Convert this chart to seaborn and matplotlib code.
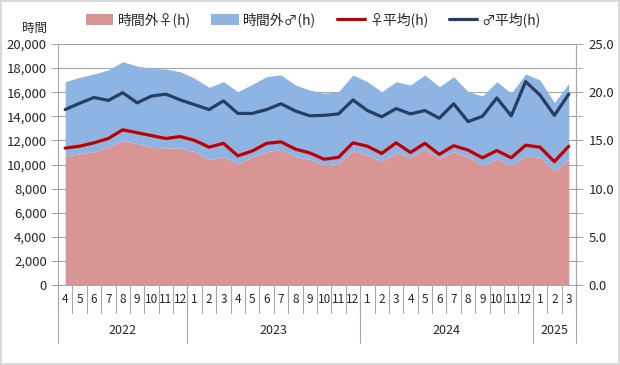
# overtime hours by month, female / male stacked + average per person on 2nd axis
import numpy as np
import pandas as pd
import matplotlib
matplotlib.use("Agg")
import matplotlib.pyplot as plt
import seaborn as sns

# ------------------------------------------------------------------
# data, 2022-04 .. 2025-03
# ------------------------------------------------------------------
months = [4, 5, 6, 7, 8, 9, 10, 11, 12,
          1, 2, 3, 4, 5, 6, 7, 8, 9, 10, 11, 12,
          1, 2, 3, 4, 5, 6, 7, 8, 9, 10, 11, 12,
          1, 2, 3]
years = ["2022", "2023", "2024", "2025"]
year_counts = [9, 12, 12, 3]

# total overtime hours (stacked)
female_hours = [10700, 10900, 11050, 11450, 11980, 11750, 11420, 11380, 11360,
                11060, 10400, 10650, 10040, 10650, 11060, 11260, 10650, 10420, 9960, 10100, 11140,
                10790, 10240, 10980, 10600, 11260, 10550, 11060, 10650, 9880, 10460, 9880, 10700,
                10600, 9460, 10430]
male_hours = [6170, 6330, 6460, 6400, 6550, 6420, 6560, 6540, 6340,
              6090, 6000, 6220, 6000, 6000, 6230, 6170, 5950, 5760, 5950, 5940, 6290,
              6080, 5800, 5890, 6000, 6170, 5900, 6230, 5390, 5810, 6410, 6030, 6810,
              6410, 5670, 6310]

# average overtime per person (right axis)
female_avg = [14.2, 14.4, 14.75, 15.2, 16.1, 15.8, 15.5, 15.2, 15.4,
              15.0, 14.3, 14.7, 13.4, 13.9, 14.7, 14.85, 14.1, 13.7, 13.05, 13.25, 14.75,
              14.4, 13.65, 14.75, 13.75, 14.7, 13.55, 14.45, 14.0, 13.2, 13.95, 13.2, 14.5,
              14.3, 12.8, 14.4]
male_avg = [18.2, 18.85, 19.45, 19.15, 19.95, 18.9, 19.6, 19.8, 19.2,
            18.7, 18.2, 19.1, 17.8, 17.8, 18.2, 18.8, 18.05, 17.55, 17.6, 17.75, 19.2,
            18.1, 17.45, 18.3, 17.75, 18.1, 17.3, 18.8, 16.95, 17.5, 19.4, 17.55, 21.1,
            19.7, 17.6, 19.8]

labels = ["時間外♀(h)", "時間外♂(h)", "♀平均(h)", "♂平均(h)"]

pink = "#d99594"
blue = "#8eb4e3"
red = "#c00000"
navy = "#243f60"
grid_gray = "#a6a6a6"

df = pd.DataFrame({
    "idx": np.arange(len(months)),
    "female": female_hours,
    "male": male_hours,
    "f_avg": female_avg,
    "m_avg": male_avg,
})

sns.set_style("white")
plt.rcParams["font.family"] = ["Noto Sans CJK JP", "DejaVu Sans"]

fig = plt.figure(figsize=(6.2, 3.65), dpi=100, edgecolor="#d9d9d9", linewidth=1.5)
ax = fig.add_axes([0.0935, 0.219, 0.8355, 0.6605])
ax2 = ax.twinx()

# stacked areas
ax.stackplot(df["idx"], df["female"], df["male"], colors=[pink, blue],
             labels=labels[:2], linewidth=0)
ax.set_xlim(-0.5, len(months) - 0.5)
ax.set_ylim(0, 20000)
ax.set_yticks(np.arange(0, 20001, 2000))
ax.set_yticklabels([f"{v:,}" for v in range(0, 20001, 2000)], fontsize=9.5)
ax.yaxis.grid(True, color=grid_gray, linewidth=0.8)
ax.set_axisbelow(True)

# average lines
sns.lineplot(data=df, x="idx", y="f_avg", ax=ax2, color=red, linewidth=2.3, label=labels[2])
sns.lineplot(data=df, x="idx", y="m_avg", ax=ax2, color=navy, linewidth=2.3, label=labels[3])
ax2.set_ylim(0, 25)
ax2.set_yticks(np.arange(0, 25.1, 5))
ax2.set_yticks(np.arange(0, 25.1, 2.5), minor=True)
ax2.set_yticklabels([f"{v:.1f}" for v in np.arange(0, 25.1, 5)], fontsize=9.5)
ax2.set_xlabel("")
ax2.set_ylabel("")
ax2.get_legend().remove()

for a in (ax, ax2):
    for s in a.spines.values():
        s.set_color(grid_gray)
        s.set_linewidth(0.8)
    a.spines["top"].set_visible(False)
ax2.spines["left"].set_visible(False)
ax2.spines["bottom"].set_visible(False)

ax.tick_params(axis="y", direction="out", length=5, color=grid_gray, pad=3)
ax2.tick_params(axis="y", which="both", direction="out", length=5, color=grid_gray, pad=4)
ax2.tick_params(axis="y", which="minor", right=True)

# two-level category axis (month / year)
ax.set_xticks(df["idx"])
ax.set_xticklabels(months, fontsize=8.5)
ax.tick_params(axis="x", length=0, pad=6)
trans = ax.get_xaxis_transform()
for i in range(len(months) + 1):
    ax.plot([i - 0.5, i - 0.5], [0, -0.115], transform=trans, color=grid_gray,
            linewidth=0.8, clip_on=False)
start = 0
for yr, cnt in zip(years, year_counts):
    ax.plot([start - 0.5, start - 0.5], [0, -0.24], transform=trans, color=grid_gray,
            linewidth=0.8, clip_on=False)
    ax.text(start + (cnt - 1) / 2, -0.187, yr, transform=trans, ha="center", va="center",
            fontsize=9)
    start += cnt
ax.plot([start - 0.5, start - 0.5], [0, -0.24], transform=trans, color=grid_gray,
        linewidth=0.8, clip_on=False)

fig.text(0.055, 0.922, "時間", ha="center", va="center", fontsize=9)

h1, l1 = ax.get_legend_handles_labels()
h2, l2 = ax2.get_legend_handles_labels()
fig.legend(h1 + h2, l1 + l2, loc="center", bbox_to_anchor=(0.505, 0.945), ncol=4,
           frameon=False, fontsize=10, handlelength=2.0, handleheight=0.8,
           columnspacing=1.5, handletextpad=0.3)

fig.savefig("out.png", dpi=100, edgecolor=fig.get_edgecolor())
